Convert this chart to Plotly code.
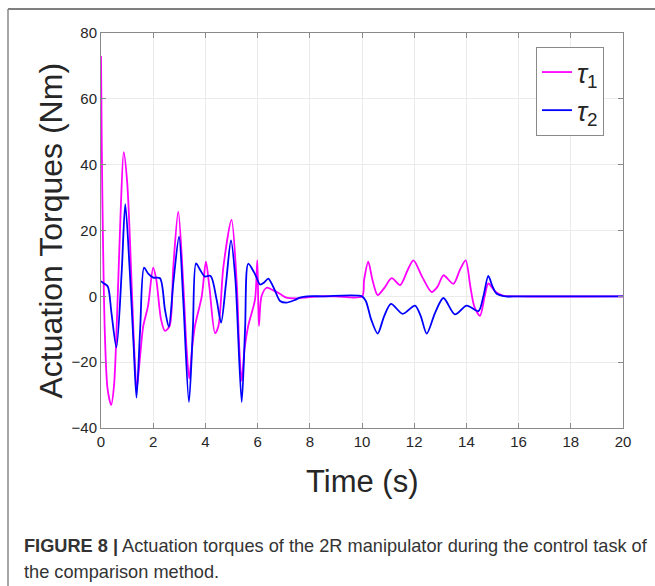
import plotly.graph_objects as go

# ---- data ----
t_tau1 = [0, 0.03, 0.08, 0.15, 0.25, 0.39, 0.5, 0.62, 0.75, 0.87, 1.0, 1.12, 1.25, 1.37, 1.5, 1.62, 1.8, 2.0, 2.12, 2.3, 2.45, 2.63, 2.77, 2.96, 3.15, 3.28, 3.38, 3.5, 3.6, 3.86, 4.02, 4.15, 4.37, 4.5, 4.69, 5.0, 5.2, 5.3, 5.39, 5.5, 5.64, 5.9, 5.99, 6.05, 6.15, 6.35, 6.6, 6.85, 7.1, 7.5, 7.9, 8.4, 9.0, 10.0,
          10.08, 10.24, 10.4, 10.6, 10.85, 11.14, 11.46, 11.75, 11.97, 12.3, 12.67, 12.9, 13.12, 13.5, 13.75, 13.97, 14.15, 14.3, 14.52, 14.7, 14.84, 15.1, 15.4, 16.0, 20.0]
tau1 = [73, 45, 15, -12, -28, -33, -27, -5, 25, 43.8, 35, 15, -12, -28, -18, -9, -3, 8.7, 5, -7, -10.5, -9, 9, 25.7, 4, -16, -25, -15, -9, 0, 10.5, 3, -11.2, -9, 9, 23.2, 4, -16, -25.7, -16, -9, -1, 11, -9, 0, 2.6, 1.8, 0.8, -0.4, -0.6, -0.3, 0, 0, 0,
        5, 10.5, 5, 0.4, 2.5, 5.5, 3.4, 8, 10.9, 6, 1.3, 3, 6.4, 3.8, 8, 10.9, 3, -3, -5.9, 0, 3.9, 1.5, 0.2, 0, 0]

t_tau2 = [0, 0.1, 0.26, 0.4, 0.59, 0.79, 0.93, 1.1, 1.25, 1.36, 1.5, 1.65, 1.8, 2.0, 2.26, 2.45, 2.6, 2.77, 2.99, 3.15, 3.37, 3.52, 3.64, 3.8, 3.98, 4.2, 4.43, 4.6, 4.79, 4.98, 5.15, 5.39, 5.52, 5.64, 5.85, 5.96, 6.09, 6.25, 6.41, 6.65, 6.86, 7.1, 7.4, 7.62, 7.9, 8.5, 10.0,
          10.15, 10.35, 10.6, 10.85, 11.11, 11.56, 12.03, 12.25, 12.48, 12.8, 13.12, 13.56, 14.01, 14.46, 14.65, 14.84, 15.0, 15.16, 15.5, 16.0, 20.0]
tau2 = [4.6, 4.0, 3.0, -5, -15.5, 7, 28, 8, -15, -30.8, -10, 8.7, 7, 5.7, 5.5, -4, -9.3, 4, 18.1, -1, -32.1, -10, 10, 8, 6, 6.2, -1, -8, 4, 17, 5, -32.1, -10, 9.9, 7.5, 5.7, 3.6, 4.2, 5.4, 2, -1.4, -1.9, -1.2, -0.4, 0, 0, 0,
        -1.5, -7, -11.3, -6, -2.3, -5.3, -2.8, -6, -11.3, -5, -0.5, -5.5, -2.8, -4.5, 0, 6.2, 3, 0.8, 0, 0, 0]

x_ticks = [0, 2, 4, 6, 8, 10, 12, 14, 16, 18, 20]
y_ticks = [-40, -20, 0, 20, 40, 60, 80]

# plot area in px: left 101, right 623, top 33, bottom 428
L, R, T, B = 101, 623, 33, 428
W, H = 655, 586
pw, ph = R - L, B - T


def px(x):
    return (x - L) / pw


def py(y):
    return (B - y) / ph


FONT = "Liberation Sans, Arial, sans-serif"

fig = go.Figure()
fig.add_trace(go.Scatter(x=t_tau1, y=tau1, mode="lines", name="<i>τ</i><sub>1</sub>",
                         line=dict(color="#ff00ff", width=1.8, shape="spline", smoothing=0.8)))
fig.add_trace(go.Scatter(x=t_tau2, y=tau2, mode="lines", name="<i>τ</i><sub>2</sub>",
                         line=dict(color="#0000ff", width=1.8, shape="spline", smoothing=0.8)))

axis_common = dict(showgrid=True, gridcolor="#ebebeb", gridwidth=1,
                   showline=True, linecolor="#8a8a8a", linewidth=1, mirror="ticks",
                   ticks="inside", ticklen=5, tickcolor="#8a8a8a", zeroline=False,
                   tickfont=dict(family=FONT, size=15, color="#262626"))

fig.update_xaxes(range=[0, 20], tickvals=x_ticks, **axis_common)
fig.update_yaxes(range=[-40, 80], tickvals=y_ticks, **axis_common)

fig.update_layout(
    width=W, height=H,
    margin=dict(l=L, r=W - R, t=T, b=H - B, pad=0),
    paper_bgcolor="white", plot_bgcolor="white",
    showlegend=True,
    legend=dict(x=px(536), y=py(47), xanchor="left", yanchor="top",
                bgcolor="white", bordercolor="#8a8a8a", borderwidth=1,
                font=dict(family=FONT, size=27, color="#262626")),
    font=dict(family=FONT),
)

# axis titles
fig.add_annotation(x=px(50), y=0.5, xref="paper", yref="paper", text="Actuation Torques (Nm)",
                   textangle=-90, showarrow=False, xanchor="center", yanchor="middle",
                   font=dict(size=32, color="#262626", family=FONT))
fig.add_annotation(x=0.5, y=py(481), xref="paper", yref="paper", text="Time (s)",
                   showarrow=False, xanchor="center", yanchor="middle",
                   font=dict(size=31, color="#262626", family=FONT))

# caption
cap_font = dict(size=18.2, color="#333333", family=FONT)
fig.add_annotation(x=px(22), y=py(546), xref="paper", yref="paper",
                   text="<b>FIGURE 8 |</b> Actuation torques of the 2R manipulator during the control task of",
                   showarrow=False, xanchor="left", yanchor="middle", font=cap_font)
fig.add_annotation(x=px(22), y=py(572), xref="paper", yref="paper",
                   text="the comparison method.",
                   showarrow=False, xanchor="left", yanchor="middle", font=cap_font)

# figure frame (top and left rules)
fig.add_shape(type="line", xref="paper", yref="paper", x0=px(8), x1=px(655), y0=py(9), y1=py(9),
              line=dict(color="#555555", width=1.5))
fig.add_shape(type="line", xref="paper", yref="paper", x0=px(8), x1=px(8), y0=py(9), y1=py(586),
              line=dict(color="#888888", width=1.5))

fig.write_html("out.html", config={"displayModeBar": False},
               post_script="document.body.style.margin='0';document.body.style.overflow='hidden';")
